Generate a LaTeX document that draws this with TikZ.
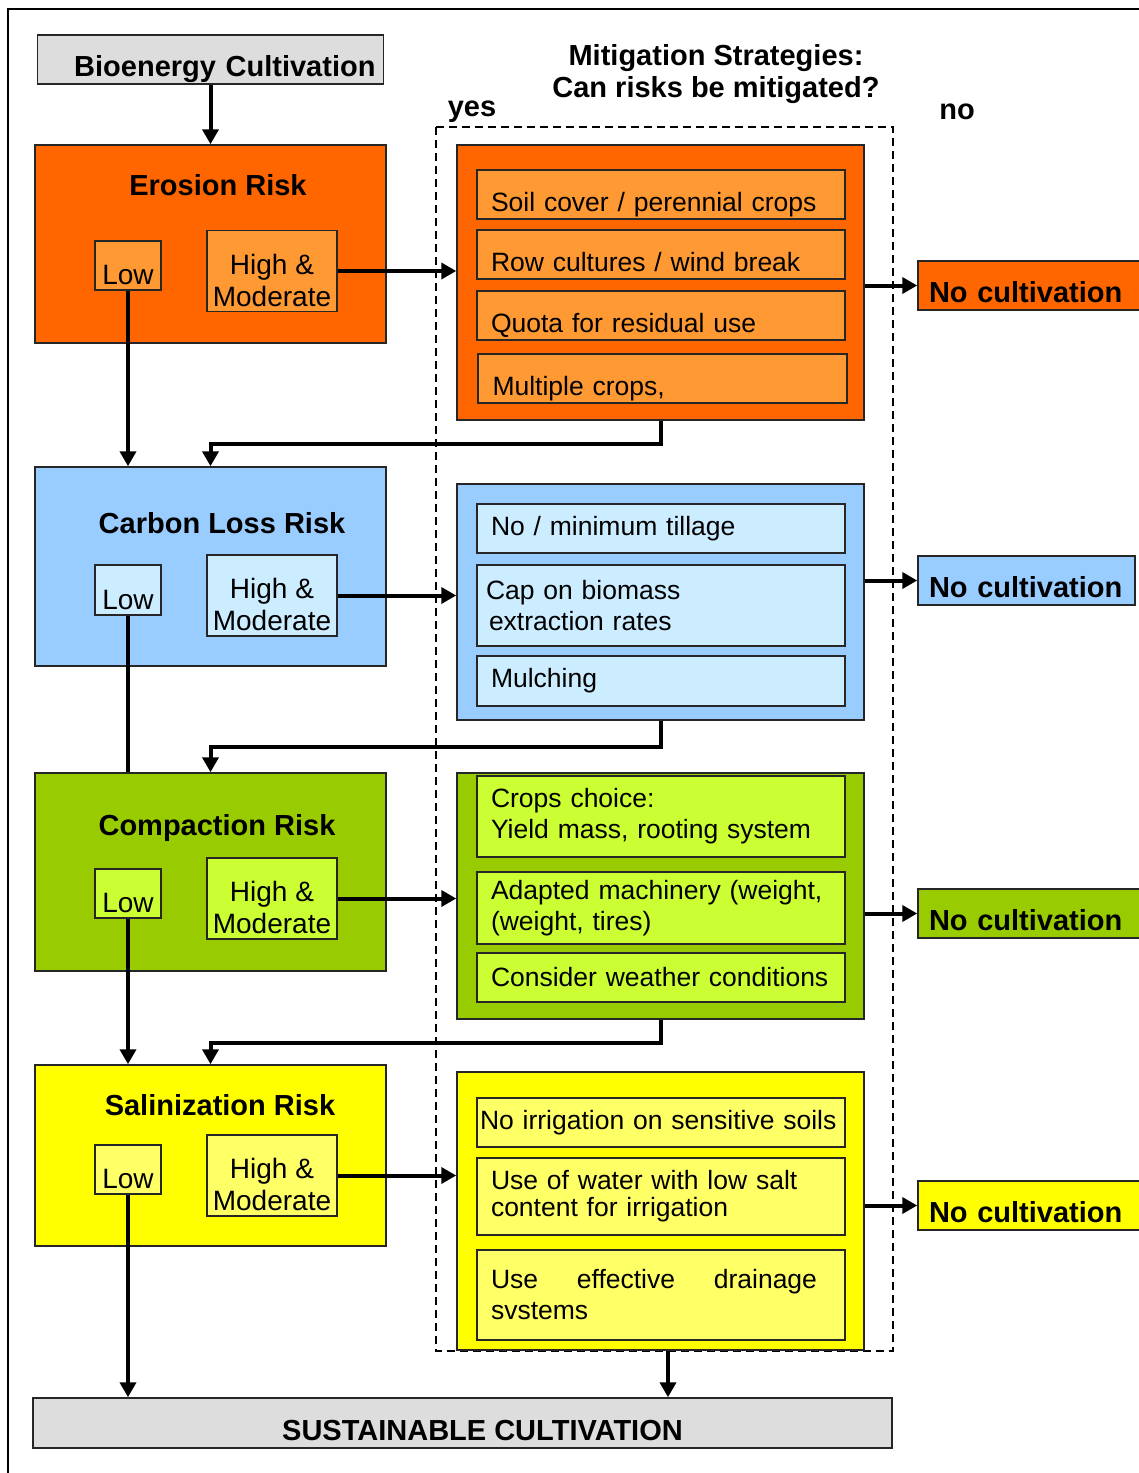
\documentclass[tikz,border=0pt]{standalone}
\usepackage{fontspec}
\setmainfont{Liberation Sans}
\usetikzlibrary{arrows.meta}

\definecolor{eroOrange}{HTML}{FF6600}
\definecolor{eroLight}{HTML}{FF9933}
\definecolor{carBlue}{HTML}{99CCFF}
\definecolor{carLight}{HTML}{CCECFF}
\definecolor{comGreen}{HTML}{99CC00}
\definecolor{comLight}{HTML}{CCFF33}
\definecolor{salYellow}{HTML}{FFFF00}
\definecolor{salLight}{HTML}{FFFF66}
\definecolor{boxGray}{HTML}{DDDDDD}

\newcommand{\lowstrut}{\rule{0pt}{39pt}}

\tikzset{
  box/.style={draw=black!85, line width=1.5pt, inner sep=0pt},
  bigtxt/.style={font=\fontsize{29}{32}\selectfont\bfseries},
  risktxt/.style={font=\fontsize{28}{32}\selectfont},
  strattxt/.style={font=\fontsize{26.5}{31}\selectfont},
  riskbox/.style={box, minimum width=351pt},
  lowbox/.style={box, risktxt, minimum width=66pt, minimum height=49pt},
  highbox/.style={box, risktxt, align=center, minimum width=130pt, minimum height=81pt},
  mitbox/.style={box, minimum width=407pt},
  strat/.style={box, strattxt, text width=340pt, align=left, inner xsep=14pt, inner ysep=2pt, minimum height=49pt},
  olow/.style={text height=40pt, text depth=6pt, inner ysep=1pt},
  nocult/.style={box, bigtxt, olow, text width=200pt, align=left, inner xsep=11pt, minimum height=49pt},
  flow/.style={line width=4pt, -{Triangle[length=15pt,width=16pt]}},
}

\begin{document}
\begin{tikzpicture}[x=1pt,y=-1pt]
     \useasboundingbox (0,0) rectangle (1139,1473);
     % frame and the dashed yes area
     \draw[line width=2pt] (8,1473) -- (8,9) -- (1139,9);
     \draw[line width=2pt, dash pattern=on 8pt off 5pt] (436,127) rectangle (893,1351);

     \node (bio) at (210.5,59.5) [box, fill=boxGray, bigtxt, olow, text width=330pt, align=right, inner xsep=8pt, minimum height=49pt] {Bioenergy Cultivation};
     \node (mt) at (716,74) [bigtxt, align=center] {Mitigation Strategies:\\Can risks be mitigated?};
     \node (yes) at (472,112) [bigtxt] {yes};
     \node (no) at (957,112) [bigtxt] {no};

     % erosion
     \node (ero) at (210.5,244) [riskbox, fill=eroOrange, minimum height=198pt] {};
     \node (eroT) at (218,185) [bigtxt] {Erosion Risk};
     \node (eroL) at (128,265.5) [lowbox, fill=eroLight] {\lowstrut Low};
     \node (eroH) at (272,271) [highbox, fill=eroLight] {\lowstrut High \&\\Moderate};
     \node (mitA) at (660.5,282.5) [mitbox, fill=eroOrange, minimum height=275pt] {};
     \node (sA1) at (661,194.5) [strat, olow, fill=eroLight] {Soil cover / perennial crops};
     \node (sA2) at (661,254.5) [strat, olow, fill=eroLight] {Row cultures / wind break};
     \node (sA3) at (661,315.5) [strat, olow, fill=eroLight] {Quota for residual use};
     \node (sA4) at (662.5,378.5) [strat, olow, fill=eroLight, minimum width=369pt] {Multiple crops,};
     \node (noA) at (1029,285.5) [nocult, fill=eroOrange] {No cultivation};

     % carbon loss
     \node (car) at (210.5,566.5) [riskbox, fill=carBlue, minimum height=199pt] {};
     \node (carT) at (222,523) [bigtxt] {Carbon Loss Risk};
     \node (carL) at (128,590) [lowbox, fill=carLight, minimum height=50pt] {\lowstrut Low};
     \node (carH) at (272,595.5) [highbox, fill=carLight] {\lowstrut High \&\\Moderate};
     \node (mitB) at (660.5,602) [mitbox, fill=carBlue, minimum height=236pt] {};
     \node (sB1) at (661,528.5) [strat, fill=carLight] {No / minimum tillage};
     \node (sB2) at (661,605.5) [strat, fill=carLight, minimum height=81pt, inner xsep=9pt, text width=350pt] {Cap on biomass\\\hspace*{3pt}extraction rates};
     \node (sB3) at (661,681) [strat, fill=carLight, minimum height=50pt] {Mulching};
     \node (noB) at (1026.5,580.5) [nocult, fill=carBlue, text width=195pt] {No cultivation};

     % compaction
     \node (com) at (210.5,872) [riskbox, fill=comGreen, minimum height=198pt] {};
     \node (comT) at (217,828) [bigtxt] {Compaction Risk};
     \node (comL) at (128,893.5) [lowbox, fill=comLight] {\lowstrut Low};
     \node (comH) at (272,898.5) [highbox, fill=comLight] {\lowstrut High \&\\Moderate};
     \node (mitC) at (660.5,896) [mitbox, fill=comGreen, minimum height=246pt] {};
     \node (sC1) at (661,816.5) [strat, fill=comLight, minimum height=81pt] {Crops choice:\\ Yield mass, rooting system};
     \node (sC2) at (661,908) [strat, fill=comLight, minimum height=72pt] {Adapted machinery (weight,\\(weight, tires)};
     \node (sC3) at (661,977.5) [strat, fill=comLight] {Consider weather conditions};
     \node (noC) at (1029,913.5) [nocult, fill=comGreen] {No cultivation};

     % salinization
     \node (sal) at (210.5,1155.5) [riskbox, fill=salYellow, minimum height=181pt] {};
     \node (salT) at (220,1105) [bigtxt] {Salinization Risk};
     \node (salL) at (128,1169.5) [lowbox, fill=salLight] {\lowstrut Low};
     \node (salH) at (272,1175.5) [highbox, fill=salLight] {\lowstrut High \&\\Moderate};
     \node (mitD) at (660.5,1211) [mitbox, fill=salYellow, minimum height=278pt] {};
     \node (sD1) at (661,1122.5) [strat, fill=salLight, text width=362pt, inner xsep=3pt] {No irrigation on sensitive soils};
     \node (sD2) at (661,1196.5) [strat, fill=salLight, minimum height=77pt, font=\fontsize{26.5}{27}\selectfont] {Use of water with low salt\\content for irrigation};
     \node (sD3) at (661,1295) [strat, fill=salLight, minimum height=90pt] {Use\hfill effective\hfill drainage\rule{14pt}{0pt}\\svstems};
     \node (noD) at (1029,1205.5) [nocult, fill=salYellow] {No cultivation};

     \node (sust) at (462.5,1423) [box, fill=boxGray, bigtxt, olow, minimum width=859pt, minimum height=50pt] {\hspace*{40pt}SUSTAINABLE CULTIVATION};

     % connectors
     \draw[flow] (bio) -- (ero);
     \draw[flow] (eroH.east) -- (eroH.east -| mitA.west);
     \draw[flow] (mitA.east |- noA) -- (noA.west);
     \draw[flow] (eroL) -- (eroL |- car.north);
     \draw[flow] (mitA.south) -- ++(0,23) -| (car.north);

     \draw[flow] (carH.east) -- (carH.east -| mitB.west);
     \draw[flow] (mitB.east |- noB) -- (noB.west);
     \draw[line width=4pt] (carL) -- (carL |- com.north);
     \draw[flow] (mitB.south) -- ++(0,26) -| (com.north);

     \draw[flow] (comH.east) -- (comH.east -| mitC.west);
     \draw[flow] (mitC.east |- noC) -- (noC.west);
     \draw[flow] (comL) -- (comL |- sal.north);
     \draw[flow] (mitC.south) -- ++(0,23) -| (sal.north);

     \draw[flow] (salH.east) -- (salH.east -| mitD.west);
     \draw[flow] (mitD.east |- noD) -- (noD.west);
     \draw[flow] (salL) -- (salL |- sust.north);
     \draw[flow] ([xshift=7.5pt]mitD.south) -- ([xshift=7.5pt]mitD.south |- sust.north);
\end{tikzpicture}
\end{document}
